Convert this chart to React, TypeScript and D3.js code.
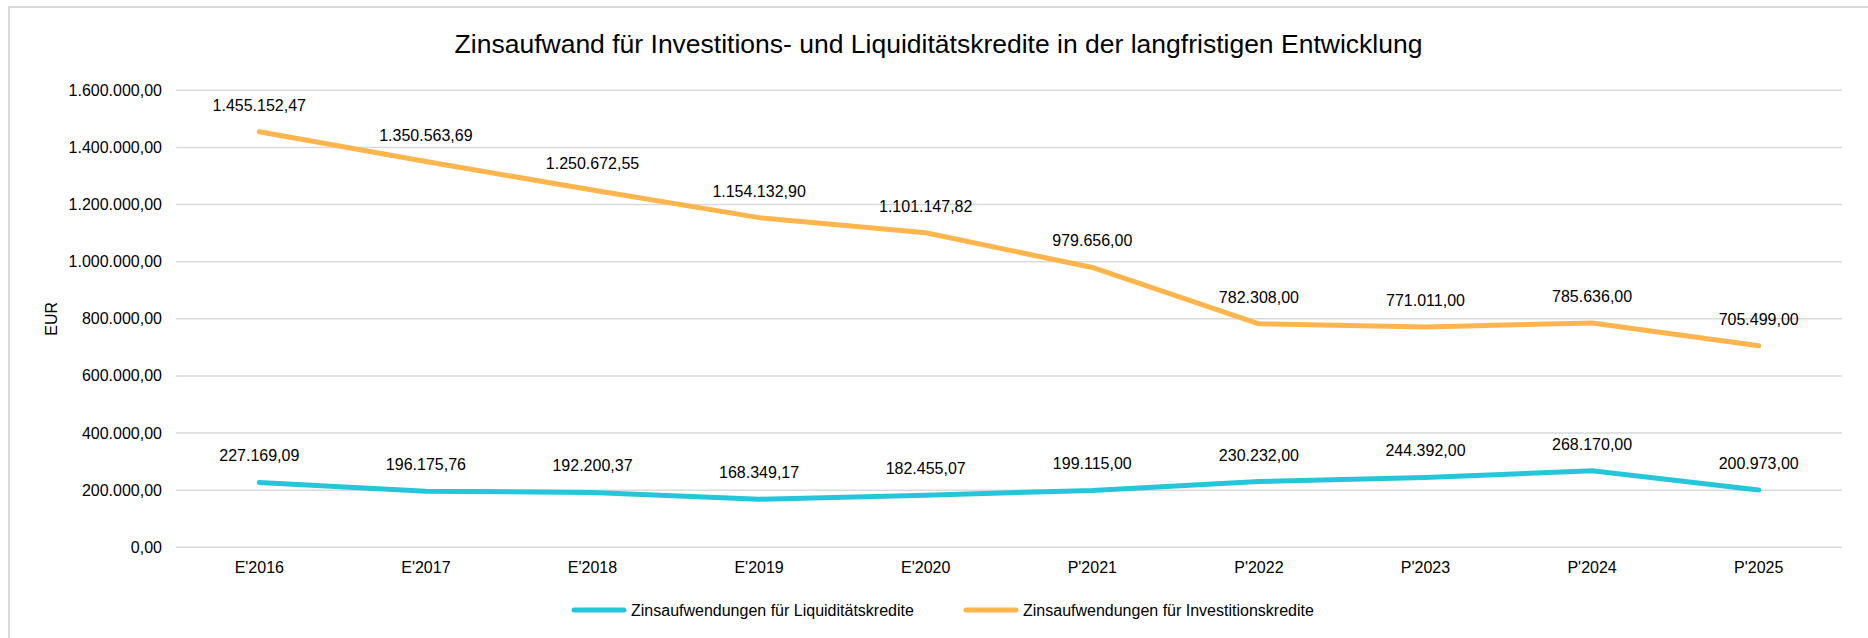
import React from "react";
import * as d3 from "d3";

const categories = ["E'2016", "E'2017", "E'2018", "E'2019", "E'2020", "P'2021", "P'2022", "P'2023", "P'2024", "P'2025"];
const investValues = [1455152.47, 1350563.69, 1250672.55, 1154132.9, 1101147.82, 979656.0, 782308.0, 771011.0, 785636.0, 705499.0];
const liquidValues = [227169.09, 196175.76, 192200.37, 168349.17, 182455.07, 199115.0, 230232.0, 244392.0, 268170.0, 200973.0];
const yTicks = [0, 200000, 400000, 600000, 800000, 1000000, 1200000, 1400000, 1600000];
const titleText = "Zinsaufwand für Investitions- und Liquiditätskredite in der langfristigen Entwicklung";
const yAxisLabel = "EUR";
const seriesNames = ["Zinsaufwendungen für Liquiditätskredite", "Zinsaufwendungen für Investitionskredite"];

const W = 1868;
const H = 638;
const plotLeft = 176;
const plotRight = 1842;
const plotTop = 90.3;
const plotBottom = 547.3;
const orange = "#FFB54D";
const cyan = "#25C6D9";
const font = "'Liberation Sans', Arial, sans-serif";

const de = d3.formatLocale({ decimal: ",", thousands: ".", grouping: [3], currency: ["", "€"] });
const fmt = de.format(",.2f");

export default function App() {
  const x = d3.scaleBand().domain(categories).range([plotLeft, plotRight]);
  const y = d3.scaleLinear().domain([0, 1600000]).range([plotBottom, plotTop]);
  const cx = (c: string) => (x(c) as number) + x.bandwidth() / 2;
  const line = d3
    .line<number>()
    .x((_, i) => cx(categories[i]))
    .y((d) => y(d));

  const series = [
    { name: seriesNames[0], values: liquidValues, color: cyan },
    { name: seriesNames[1], values: investValues, color: orange },
  ];

  return (
    <svg width={W} height={H} style={{ position: "absolute", left: 0, top: 0 }} fontFamily={font}>
      <rect x={0} y={0} width={W} height={H} fill="#fff" />
      <rect x={9} y={7} width={W + 20} height={H + 20} fill="#fff" stroke="#d9d9d9" strokeWidth={2} />
      <text x={938.5} y={53} textAnchor="middle" fontSize={26.5} fill="#000">
        {titleText}
      </text>
      {yTicks.map((t) => (
        <g key={t}>
          <line x1={plotLeft} x2={plotRight} y1={y(t)} y2={y(t)} stroke="#d9d9d9" strokeWidth={1.5} />
          <text x={162} y={y(t) + 5.5} textAnchor="end" fontSize={16} fill="#000">
            {fmt(t)}
          </text>
        </g>
      ))}
      <text transform={`translate(57,${(plotTop + plotBottom) / 2}) rotate(-90)`} textAnchor="middle" fontSize={16} fill="#000">
        {yAxisLabel}
      </text>
      {categories.map((c) => (
        <text key={c} x={cx(c)} y={572.5} textAnchor="middle" fontSize={16} fill="#000">
          {c}
        </text>
      ))}
      {series.map((s) => (
        <g key={s.name}>
          <path d={line(s.values) || ""} fill="none" stroke={s.color} strokeWidth={5} strokeLinecap="round" strokeLinejoin="round" />
          {s.values.map((v, i) => (
            <text key={i} x={cx(categories[i])} y={y(v) - 21} textAnchor="middle" fontSize={16} fill="#000">
              {fmt(v)}
            </text>
          ))}
        </g>
      ))}
      <g>
        <line x1={574} x2={624} y1={610} y2={610} stroke={cyan} strokeWidth={5} strokeLinecap="round" />
        <text x={631} y={615.5} fontSize={16} fill="#000">{seriesNames[0]}</text>
        <line x1={966} x2={1016} y1={610} y2={610} stroke={orange} strokeWidth={5} strokeLinecap="round" />
        <text x={1023} y={615.5} fontSize={16} fill="#000">{seriesNames[1]}</text>
      </g>
    </svg>
  );
}
